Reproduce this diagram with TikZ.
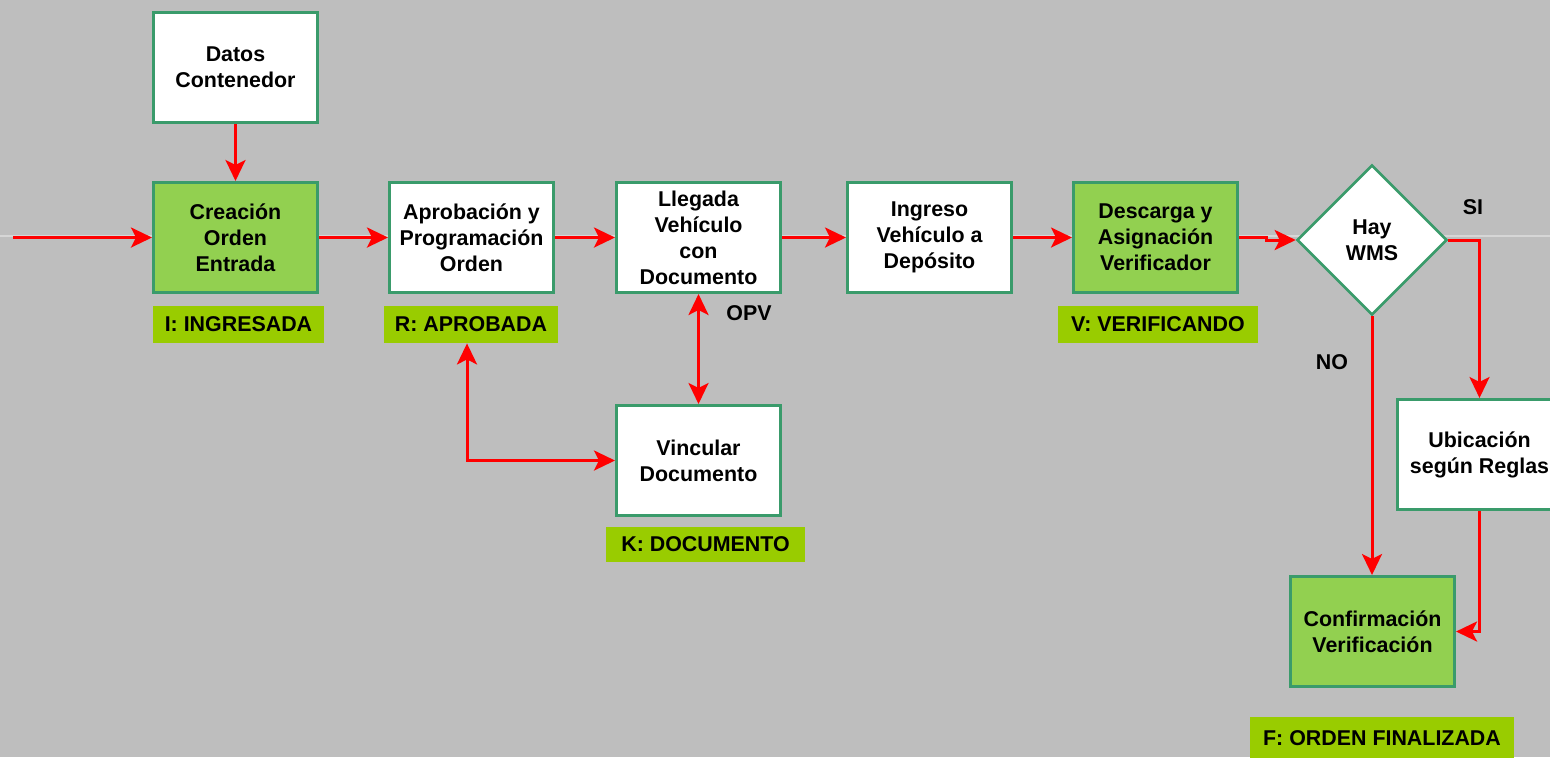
\documentclass[tikz,border=0pt]{standalone}
\usepackage{fontspec}
\setmainfont{Liberation Sans}
\usetikzlibrary{shapes.geometric,arrows.meta}
\definecolor{bg}{HTML}{BEBEBE}
\definecolor{boxline}{HTML}{3A9B6B}
\definecolor{boxgreen}{HTML}{92D050}
\definecolor{lblgreen}{HTML}{99CC00}
\definecolor{arrred}{HTML}{FF0000}
\definecolor{wmline}{HTML}{D6D6D6}
\begin{document}
\begin{tikzpicture}[x=0.5pt,y=-0.5pt,
  >={Stealth[length=10.5pt,width=10pt,inset=2.5pt]},
  every node/.style={font=\bfseries\fontsize{10.7}{13}\selectfont, align=center, text=black},
  proc/.style={draw=boxline, line width=1.5pt, fill=white, minimum width=82pt, minimum height=55pt, inner sep=0pt},
  procg/.style={proc, fill=boxgreen},
  decis/.style={diamond, draw=boxline, line width=1.3pt, fill=white, minimum width=75pt, minimum height=75pt, inner sep=0pt},
  status/.style={fill=lblgreen, inner sep=0pt, minimum height=18.5pt},
  flow/.style={draw=arrred, line width=1.5pt, ->},
  flow2/.style={draw=arrred, line width=1.5pt, <->},
  plain/.style={font=\bfseries\fontsize{10.7}{13}\selectfont}
]
\useasboundingbox (0,0) rectangle (1550,757);
\clip (0,0) rectangle (1550,757);
\fill[bg] (0,0) rectangle (1550,757);
\draw[wmline, line width=0.6pt] (0,236) -- (1550,236);

% process boxes
\node[proc]  (datos) at (235.5,67.5)  {Datos\\Contenedor};
\node[procg] (crea)  at (235.5,237.5) {Creación\\Orden\\Entrada};
\node[proc]  (aprob) at (471.5,237.5) {Aprobación y\\Programación\\Orden};
\node[proc]  (lleg)  at (698.5,237.5) {Llegada\\Vehículo\\con\\Documento};
\node[proc]  (ingr)  at (929.5,237.5) {Ingreso\\Vehículo a\\Depósito};
\node[procg] (desc)  at (1155.5,237.5) {Descarga y\\Asignación\\Verificador};
\node[decis] (dia)   at (1372,240) {Hay\\WMS};
\node[proc]  (ubic)  at (1479.5,454.5) {Ubicación\\según Reglas};
\node[procg] (conf)  at (1372.5,631.5) {Confirmación\\Verificación};
\node[proc]  (vinc)  at (698.5,460.5) {Vincular\\Documento};

% status labels
\node[status, minimum width=85.5pt] (sI) at (238.5,324.5) {I: INGRESADA};
\node[status, minimum width=87pt]   (sR) at (471,324.5)   {R: APROBADA};
\node[status, minimum width=99.5pt, minimum height=17.5pt] (sK) at (705.5,544.5) {K: DOCUMENTO};
\node[status, minimum width=100pt]  (sV) at (1158,324.5)  {V: VERIFICANDO};
\node[status, minimum width=132pt, minimum height=21pt] (sF) at (1382,738) {F: ORDEN FINALIZADA};

% free texts
\node[plain] (si)  at (1473,207) {SI};
\node[plain] (no)  at (1332,362) {NO};
\node[plain] (opv) at (749,313)  {OPV};

% connectors
\coordinate (start) at (13,237.5);
\draw[flow] (start) -- (crea.west);
\draw[flow] (datos.south) -- (crea.north);
\draw[flow] (crea.east) -- (aprob.west);
\draw[flow] (aprob.east) -- (lleg.west);
\draw[flow] (lleg.east) -- (ingr.west);
\draw[flow] (ingr.east) -- (desc.west);
\draw[flow] (desc.east) -- ++(27,0) |- (dia.west);
\draw[flow] (dia.east) -| (ubic.north);
\draw[flow] (dia.south) -- (dia.south |- conf.north);
\draw[flow] (ubic.south) |- (conf.east);
\draw[flow2] (lleg.south) -- (vinc.north);
\draw[flow2] (sR.south -| 467,0) |- (vinc.west);
\end{tikzpicture}
\end{document}
